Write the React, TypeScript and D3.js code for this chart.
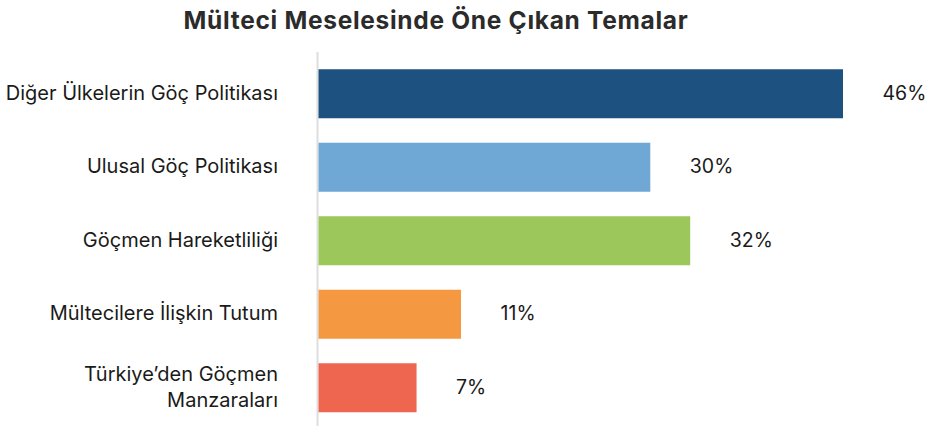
import React from "react";
import * as d3 from "d3";

const categories: string[][] = [
  ["Diğer Ülkelerin Göç Politikası"],
  ["Ulusal Göç Politikası"],
  ["Göçmen Hareketliliği"],
  ["Mültecilere İlişkin Tutum"],
  ["Türkiye’den Göçmen", "Manzaraları"],
];
const barValues: number[] = [46, 29.1, 32.6, 12.5, 8.6];
const valueLabels: string[] = ["46%", "30%", "32%", "11%", "7%"];
const colors: string[] = ["#1d5280", "#6fa7d5", "#9bc75b", "#f59842", "#ee6650"];
const title = "Mülteci Meselesinde Öne Çıkan Temalar";

const W = 931;
const H = 426;
const FONT = "Inter, 'Noto Sans', sans-serif";

export default function App() {
  const x = d3.scaleLinear().domain([0, 46]).range([318.5, 843]);
  const y = d3
    .scaleBand<number>()
    .domain(d3.range(categories.length))
    .range([57, 424.5])
    .paddingInner(1 / 3)
    .paddingOuter(1 / 6);
  const bw = y.bandwidth();
  return (
    <svg
      width={W}
      height={H}
      style={{ position: "absolute", left: 0, top: 0, background: "#fff" }}
      fontFamily={FONT}
    >
      <text
        x={436}
        y={28.5}
        textAnchor="middle"
        fontSize={24.5}
        fontWeight={700}
        letterSpacing={0.7}
        fill="#2b2b2b"
      >
        {title}
      </text>
      <line x1={317.5} x2={317.5} y1={52} y2={H} stroke="#dedede" strokeWidth={2} />
      {categories.map((lines, i) => {
        const cy = (y(i) as number) + bw / 2;
        const lh = 26;
        const y0 = cy - ((lines.length - 1) * lh) / 2;
        return (
          <g key={i}>
            <rect
              x={x(0)}
              y={y(i)}
              width={x(barValues[i]) - x(0)}
              height={bw}
              fill={colors[i]}
            />
            <text x={278} textAnchor="end" fontSize={20} fill="#1a1a1a">
              {lines.map((l, j) => (
                <tspan key={j} x={278} y={y0 + j * lh} dy="0.3em">
                  {l}
                </tspan>
              ))}
            </text>
            <text
              x={x(barValues[i]) + 39.5}
              y={cy}
              dy="0.3em"
              fontSize={19.5}
              fill="#1a1a1a"
            >
              {valueLabels[i]}
            </text>
          </g>
        );
      })}
    </svg>
  );
}
